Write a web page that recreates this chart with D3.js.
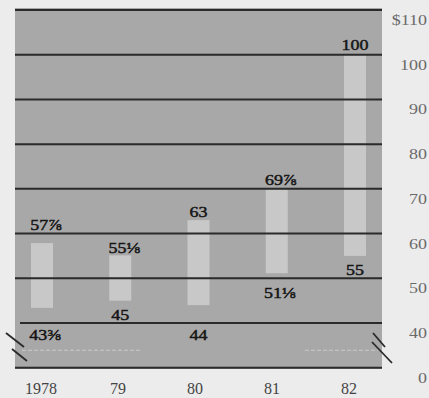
<!DOCTYPE html>
<html><head><meta charset="utf-8">
<script src="https://cdn.jsdelivr.net/npm/d3@7"></script>
<style>html,body{margin:0;padding:0;background:#ececec;} svg{display:block}</style>
</head><body><svg id="c" width="429" height="398"></svg>
<script>
// ---- data ----
const years = ["1978", "79", "80", "81", "82"];
const highs = [57.875, 55.125, 63, 69.875, 100];
const lows = [43.375, 45, 44, 51.125, 55];
const highLabels = ["57⅞", "55⅛", "63", "69⅞", "100"];
const lowLabels = ["43⅜", "45", "44", "51⅛", "55"];
const tickValues = [110, 100, 90, 80, 70, 60, 50, 40];
const tickLabels = ["$110", "100", "90", "80", "70", "60", "50", "40"];
const baseLabel = "0";

// ---- layout ----
const svg = d3.select("#c");
const y = d3.scaleLinear().domain([40, 110]).range([323, 10]);
const baseY = y(40) + (y(40) - y(50));
const x = d3.scalePoint().domain(years).range([42, 355]);
const xl = d3.scalePoint().domain(years).range([41, 349]);
const panelL = 15, panelR = 382, barW = 22;
const highDy = [-13, -2, -3, -4, -5];
const lowDy = [32, 19, 35, 25, 19];
const rows = years.map((yr, i) => ({yr, i, hi: highs[i], lo: lows[i], hl: highLabels[i], ll: lowLabels[i]}));

const defs = svg.append("defs");
defs.append("filter").attr("id", "soft").append("feGaussianBlur").attr("stdDeviation", 0.7);
defs.append("filter").attr("id", "soft2").append("feGaussianBlur").attr("stdDeviation", 0.35);

// panel
svg.append("rect").attr("x", panelL).attr("y", y(110) - 2)
  .attr("width", panelR - panelL).attr("height", baseY - y(110) + 3)
  .attr("fill", "#a8a8a8");

// bars
svg.append("g").attr("filter", "url(#soft)").selectAll("rect").data(rows).join("rect")
  .attr("x", d => x(d.yr) - barW / 2).attr("y", d => y(d.hi))
  .attr("width", barW).attr("height", d => y(d.lo) - y(d.hi))
  .attr("fill", "#c8c8c8");

// faint break hint lines
const faint = svg.append("g").attr("stroke", "#c2c2c2").attr("stroke-width", 1.2).attr("stroke-dasharray", "4 2");
faint.append("line").attr("x1", 22).attr("x2", 140).attr("y1", (y(40) + baseY) / 2 + 5).attr("y2", (y(40) + baseY) / 2 + 5);
faint.append("line").attr("x1", 305).attr("x2", 378).attr("y1", (y(40) + baseY) / 2 + 5).attr("y2", (y(40) + baseY) / 2 + 5);

// grid lines
const g = svg.append("g").attr("filter", "url(#soft2)");
g.selectAll("line.grid").data(tickValues).join("line").attr("class", "grid")
  .attr("x1", d => d === 40 ? 20 : panelL).attr("x2", panelR)
  .attr("y1", d => y(d)).attr("y2", d => y(d))
  .attr("stroke", "#2a2a2a").attr("stroke-width", 2);
g.append("line").attr("x1", panelL).attr("x2", panelR).attr("y1", baseY).attr("y2", baseY)
  .attr("stroke", "#2a2a2a").attr("stroke-width", 2);

// break marks
const br = [[6, 333, 24, 347], [12, 349, 27, 361], [373, 333, 385, 347], [372, 342, 392, 363]];
g.selectAll("line.brk").data(br).join("line").attr("class", "brk")
  .attr("x1", d => d[0]).attr("y1", d => d[1]).attr("x2", d => d[2]).attr("y2", d => d[3])
  .attr("stroke", "#2a2a2a").attr("stroke-width", 1.8);

// tick labels (right)
const tl = svg.append("g").attr("font-family", "'Liberation Serif', serif").attr("font-size", 15)
  .attr("fill", "#6a6a6a").attr("text-anchor", "end");
tickValues.forEach((v, i) => {
  tl.append("text").attr("transform", `translate(427,${y(v) + 15}) scale(1.2,1)`).text(tickLabels[i]);
});
tl.append("text").attr("transform", `translate(427,${baseY + 15}) scale(1.2,1)`).text(baseLabel);

// year labels
svg.append("g").attr("font-family", "'Liberation Serif', serif").attr("font-size", 16)
  .attr("fill", "#444").attr("text-anchor", "middle")
  .selectAll("text").data(rows).join("text")
  .attr("x", d => xl(d.yr)).attr("y", baseY + 26).text(d => d.yr);

// value labels
const vl = svg.append("g").attr("font-family", "'Liberation Serif', serif").attr("font-size", 15)
  .attr("fill", "#151515").attr("stroke", "#151515").attr("stroke-width", 0.45).attr("text-anchor", "middle");
rows.forEach(d => {
  const dxH = d.hl.length > 2 && d.hl !== "100" ? 4 : 0;
  const dxL = d.ll.length > 2 ? 3 : 0;
  vl.append("text").attr("transform", `translate(${x(d.yr) + dxH},${y(d.hi) + highDy[d.i]}) scale(1.2,1)`).text(d.hl);
  vl.append("text").attr("transform", `translate(${x(d.yr) + dxL},${y(d.lo) + lowDy[d.i]}) scale(1.2,1)`).text(d.ll);
});
</script></body></html>
